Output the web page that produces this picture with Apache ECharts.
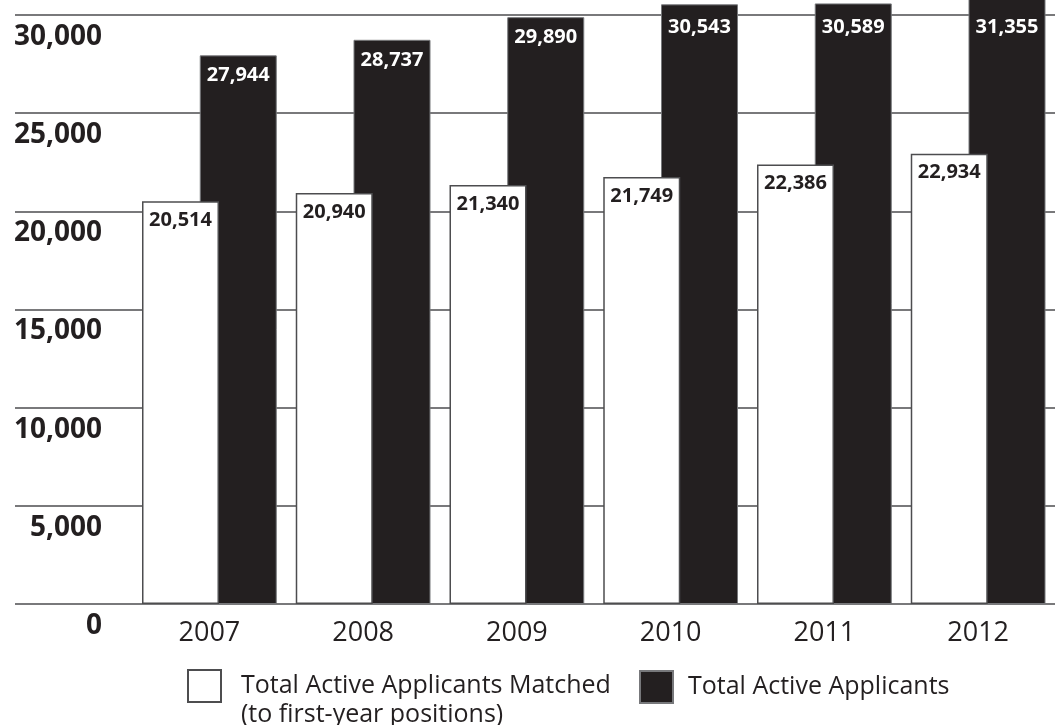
<!DOCTYPE html>
<html>
<head>
<meta charset="utf-8">
<script src="https://cdn.jsdelivr.net/npm/echarts@6/dist/echarts.min.js"></script>
<style>
  html, body { margin: 0; padding: 0; background: #ffffff; }
  #chart { width: 1055px; height: 725px; }
</style>
</head>
<body>
<div id="chart"></div>
<script>
const years = ['2007', '2008', '2009', '2010', '2011', '2012'];
const matched = [20514, 20940, 21340, 21749, 22386, 22934];
const applicants = [27944, 28737, 29890, 30543, 30589, 31355];
const seriesNames = ['Total Active Applicants Matched', 'Total Active Applicants'];
const matchedNote = '(to first-year positions)';
const yMin = 0, yMax = 30000, yStep = 5000;

const ink = '#231f20';
const fontFamily = '"Open Sans", "Noto Sans", sans-serif';
const fmt = v => Number(v).toLocaleString('en-US');
const plotTop = 15;

const chart = echarts.init(document.getElementById('chart'), null, { renderer: 'canvas' });

chart.setOption({
  animation: false,
  backgroundColor: '#ffffff',
  grid: [
    { left: 15, right: 0, top: plotTop, bottom: 121 },
    { left: 132.5, width: 930, top: plotTop, bottom: 121 }
  ],
  xAxis: [
    { gridIndex: 0, type: 'value', show: false, min: 0, max: 1 },
    {
      gridIndex: 1, type: 'category', data: years,
      axisLine: { show: false }, axisTick: { show: false },
      axisLabel: {
        color: ink, fontFamily: fontFamily, fontSize: 27,
        margin: 29, verticalAlign: 'middle'
      }
    }
  ],
  yAxis: [
    {
      gridIndex: 0, type: 'value', min: yMin, max: yMax, interval: yStep,
      axisLine: { show: false }, axisTick: { show: false },
      splitLine: { show: true, lineStyle: { color: '#4d4d4f', width: 1.6 } },
      axisLabel: {
        color: ink, fontFamily: fontFamily, fontSize: 28, fontWeight: 'bold',
        align: 'right', verticalAlign: 'top', lineHeight: 44, margin: -87,
        formatter: v => fmt(v)
      }
    },
    {
      gridIndex: 1, type: 'value', min: yMin, max: yMax, interval: yStep,
      show: false, splitLine: { show: false }
    }
  ],
  legend: [
    {
      data: [seriesNames[0]], left: 187, top: 642.5, padding: 0,
      itemWidth: 33, itemHeight: 32, icon: 'rect',
      // empty first line so the first text line sits level with the icon
      formatter: name => '\n' + name + '\n' + matchedNote,
      textStyle: {
        color: ink, fontFamily: fontFamily, fontSize: 25, lineHeight: 29,
        padding: [0, 0, 0, 15]
      }
    },
    {
      data: [seriesNames[1]], left: 639, top: 670, padding: 0,
      itemWidth: 33, itemHeight: 32, icon: 'rect',
      textStyle: {
        color: ink, fontFamily: fontFamily, fontSize: 25, lineHeight: 29,
        padding: [0, 0, 0, 10]
      }
    }
  ],
  series: [
    {
      name: seriesNames[0], type: 'bar', xAxisIndex: 1, yAxisIndex: 1,
      data: matched, barWidth: 77, barGap: '-25%', z: 3, clip: false,
      itemStyle: { color: '#ffffff', borderColor: '#4d4d4f', borderWidth: 1.5 },
      label: {
        show: true, position: 'insideTop', distance: 9,
        color: ink, fontFamily: fontFamily, fontSize: 20, fontWeight: 'bold',
        formatter: p => fmt(p.value)
      }
    },
    {
      name: seriesNames[1], type: 'bar', xAxisIndex: 1, yAxisIndex: 1,
      data: applicants, barWidth: 77, barGap: '-25%', z: 2, clip: false,
      itemStyle: { color: ink, borderColor: '#77787b', borderWidth: 1 },
      label: {
        show: true, position: 'insideTop', distance: 10,
        color: '#ffffff', fontFamily: fontFamily, fontSize: 20, fontWeight: 'bold',
        formatter: p => fmt(p.value)
      },
      // keep labels of bars taller than the axis inside the plot area
      labelLayout: params => ({
        x: params.rect.x + params.rect.width / 2,
        y: Math.max(params.labelRect.y, plotTop + 2),
        align: 'center',
        verticalAlign: 'top'
      })
    }
  ]
});
</script>
</body>
</html>
